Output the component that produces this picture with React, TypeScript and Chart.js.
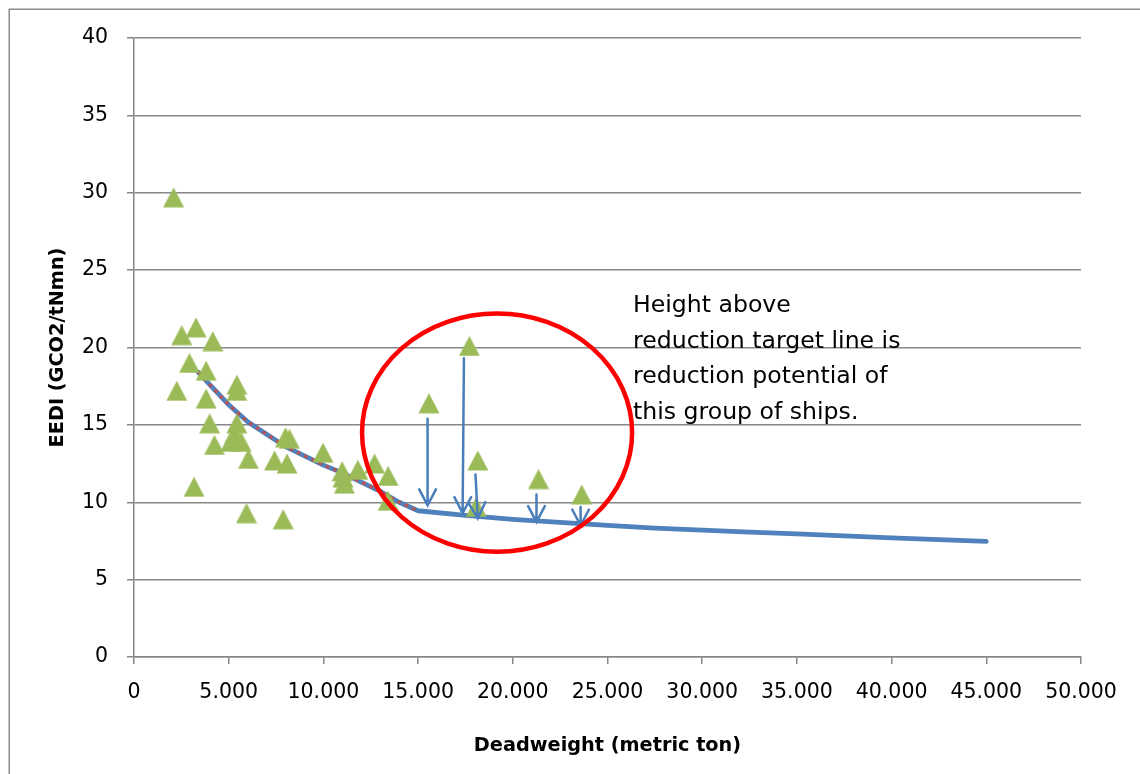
import React, { useEffect, useRef } from 'react';
import { Chart, registerables } from 'chart.js';

Chart.register(...registerables);

// ---- data ----
const shipDwt = [
  2090, 2520, 3280, 4160, 2930, 3810, 2260, 5430, 5430, 3810,
  3990, 5430, 5310, 5100, 5660, 4250, 6040, 8000, 8210, 7420,
  8080, 3170, 5940, 7880, 9980, 10990, 11030, 11110, 11820, 12700,
  13420, 13420, 15570, 17710, 18150, 18070, 21360, 23640,
];
const shipEedi = [
  29.7, 20.8, 21.3, 20.4, 19.0, 18.5, 17.2, 17.6, 17.2, 16.7,
  15.1, 15.1, 14.4, 13.9, 13.9, 13.7, 12.8, 14.2, 14.1, 12.7,
  12.5, 11.0, 9.3, 8.9, 13.2, 12.0, 11.6, 11.2, 12.1, 12.5,
  11.7, 10.1, 16.4, 20.1, 12.7, 9.7, 11.5, 10.5,
];

const targetDwt = [
  3400, 4000, 5000, 6000, 7000, 8000, 9000, 10000, 11000, 12000, 13000, 14000, 15000,
  17500, 20000, 22500, 25000, 27500, 30000, 32500, 35000, 37500, 40000, 42500, 45000,
];
const targetEedi = [
  18.4, 17.6, 16.3, 15.2, 14.4, 13.6, 13.0, 12.4, 11.9, 11.3, 10.7, 10.0, 9.45,
  9.15, 8.9, 8.7, 8.5, 8.33, 8.2, 8.07, 7.95, 7.83, 7.7, 7.58, 7.47,
];

const dottedDwt = [3400, 4000, 5000, 6000, 7000, 8000, 9000, 10000, 11000, 12000, 13000, 14000, 15000];
const dottedEedi = [18.4, 17.6, 16.3, 15.2, 14.4, 13.6, 13.0, 12.4, 11.9, 11.3, 10.7, 10.0, 9.45];

const arrowDwtTop = [15500, 17420, 18030, 21250, 23580];
const arrowDwtBottom = [15500, 17350, 18150, 21250, 23580];
const arrowTop = [15.4, 19.3, 11.8, 10.5, 9.7];
const arrowBottom = [9.8, 9.3, 8.95, 8.72, 8.5];

const circleCenter = [19170, 14.5];
const circleRadius = [7130, 7.7];

const xTickLabels = ['0', '5.000', '10.000', '15.000', '20.000', '25.000', '30.000', '35.000', '40.000', '45.000', '50.000'];
const yTickLabels = ['0', '5', '10', '15', '20', '25', '30', '35', '40'];

const noteLines = [
  'Height above',
  'reduction target line is',
  'reduction potential of',
  'this group of ships.',
];

const xTitle = 'Deadweight (metric ton)';
const yTitle = 'EEDI (GCO2/tNmn)';

const FONT = '"DejaVu Sans", sans-serif';
const GRID = '#878787';

function makeTriangle(): HTMLCanvasElement {
  const c = document.createElement('canvas');
  c.width = 22;
  c.height = 21;
  const g = c.getContext('2d')!;
  g.beginPath();
  g.moveTo(11, 0.5);
  g.lineTo(21.5, 20.5);
  g.lineTo(0.5, 20.5);
  g.closePath();
  g.fillStyle = '#9bbb59';
  g.fill();
  return c;
}

const framePlugin = {
  id: 'frame',
  beforeDraw(chart: any) {
    const ctx = chart.ctx;
    ctx.save();
    ctx.fillStyle = '#ffffff';
    ctx.fillRect(0, 0, chart.width, chart.height);
    ctx.strokeStyle = '#8a8a8a';
    ctx.lineWidth = 1.5;
    ctx.strokeRect(9.25, 9.25, 3000, 3000);
    ctx.restore();
  },
};

const overlayPlugin = {
  id: 'overlay',
  afterDatasetsDraw(chart: any) {
    const ctx = chart.ctx;
    const xs = chart.scales.x;
    const ys = chart.scales.y;
    ctx.save();
    // arrows
    ctx.strokeStyle = '#4a7ebb';
    ctx.lineWidth = 2.5;
    ctx.lineCap = 'round';
    for (let i = 0; i < arrowTop.length; i++) {
      const x1 = xs.getPixelForValue(arrowDwtTop[i]);
      const y1 = ys.getPixelForValue(arrowTop[i]);
      const x2 = xs.getPixelForValue(arrowDwtBottom[i]);
      const y2 = ys.getPixelForValue(arrowBottom[i]);
      ctx.beginPath();
      ctx.moveTo(x1, y1);
      ctx.lineTo(x2, y2);
      const a = Math.atan2(y2 - y1, x2 - x1);
      const L = 18;
      const w = Math.PI / 6.5;
      ctx.moveTo(x2 - L * Math.cos(a - w), y2 - L * Math.sin(a - w));
      ctx.lineTo(x2, y2);
      ctx.lineTo(x2 - L * Math.cos(a + w), y2 - L * Math.sin(a + w));
      ctx.stroke();
    }
    // red ellipse
    const cx = xs.getPixelForValue(circleCenter[0]);
    const cy = ys.getPixelForValue(circleCenter[1]);
    const rx = xs.getPixelForValue(circleCenter[0] + circleRadius[0]) - cx;
    const ry = cy - ys.getPixelForValue(circleCenter[1] + circleRadius[1]);
    ctx.beginPath();
    ctx.ellipse(cx, cy, rx, ry, 0, 0, Math.PI * 2);
    ctx.strokeStyle = '#ff0000';
    ctx.lineWidth = 4.5;
    ctx.stroke();
    // note text
    ctx.fillStyle = '#000000';
    ctx.font = '23.6px ' + FONT;
    ctx.textBaseline = 'alphabetic';
    ctx.textAlign = 'left';
    const left = chart.chartArea.left + 499;
    const top = chart.chartArea.top + 274;
    noteLines.forEach((t, i) => ctx.fillText(t, left, top + i * 35.5));
    ctx.restore();
  },
};

export default function App() {
  const ref = useRef<HTMLCanvasElement | null>(null);

  useEffect(() => {
    if (!ref.current) return;
    const tri = makeTriangle();
    const ships = shipDwt.map((x, i) => ({ x, y: shipEedi[i] }));
    const target = targetDwt.map((x, i) => ({ x, y: targetEedi[i] }));
    const dotted = dottedDwt.map((x, i) => ({ x, y: dottedEedi[i] }));

    const chart = new Chart(ref.current, {
      type: 'scatter',
      data: {
        datasets: [
          {
            label: 'Ships',
            data: ships,
            pointStyle: tri as any,
            pointRadius: 10,
            showLine: false,
            order: 0,
          },
          {
            label: 'Dotted',
            data: dotted,
            showLine: true,
            borderColor: '#c0504d',
            borderWidth: 3,
            borderDash: [3.5, 4.5],
            pointRadius: 0,
            tension: 0,
            order: 1,
          },
          {
            label: 'Reduction target',
            data: target,
            showLine: true,
            borderColor: '#4f81bd',
            borderWidth: 4.8,
            pointRadius: 0,
            borderCapStyle: 'round',
            borderJoinStyle: 'round',
            tension: 0,
            order: 2,
          },
        ],
      },
      options: {
        animation: false,
        responsive: false,
        devicePixelRatio: 1,
        layout: { padding: { left: 0, top: 38, right: 59, bottom: 0 } },
        plugins: { legend: { display: false }, tooltip: { enabled: false } },
        scales: {
          x: {
            type: 'linear',
            min: 0,
            max: 50000,
            ticks: {
              stepSize: 5000,
              padding: 16,
              color: '#000',
              font: { family: FONT, size: 20.5 },
              callback: (_v: any, i: number) => xTickLabels[i],
              maxRotation: 0,
              autoSkip: false,
            },
            grid: { display: true, drawOnChartArea: false, drawTicks: true, tickLength: 7, color: GRID, lineWidth: 1.5 },
            border: { display: true, color: GRID, width: 1.5 },
            title: {
              display: true,
              text: xTitle,
              color: '#000',
              font: { family: FONT, size: 19.3, weight: 'bold' },
              padding: { top: 0, bottom: 16 },
            },
            afterFit: (s: any) => { s.height = 117; },
          },
          y: {
            type: 'linear',
            min: 0,
            max: 40,
            ticks: {
              stepSize: 5,
              padding: 19,
              color: '#000',
              font: { family: FONT, size: 20.5 },
              callback: (_v: any, i: number) => yTickLabels[i],
            },
            grid: { display: true, drawTicks: true, tickLength: 7, color: GRID, lineWidth: 1.5 },
            border: { display: true, color: GRID, width: 1.5 },
            title: {
              display: true,
              text: yTitle,
              color: '#000',
              font: { family: FONT, size: 19.3, weight: 'bold' },
              padding: { top: 46, bottom: 0 },
            },
            afterFit: (s: any) => { s.width = 134; },
          },
        },
      },
      plugins: [framePlugin, overlayPlugin],
    });
    return () => chart.destroy();
  }, []);

  return (
    <div style={{ position: 'absolute', left: 0, top: 0, width: 1140, height: 774, background: '#fff' }}>
      <canvas ref={ref} width={1140} height={774} style={{ display: 'block' }} />
    </div>
  );
}
